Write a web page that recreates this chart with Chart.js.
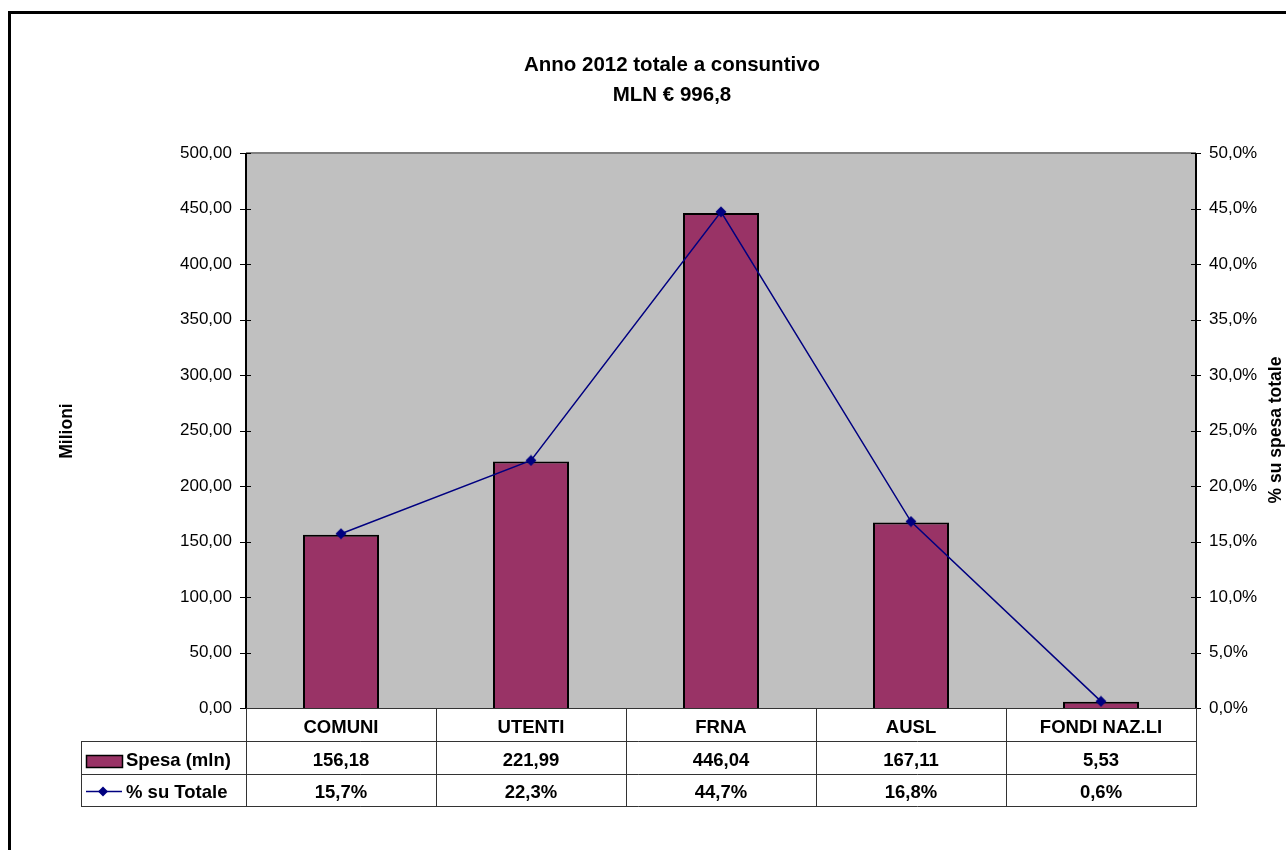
<!DOCTYPE html>
<html>
<head>
<meta charset="utf-8">
<style>
  html, body { margin: 0; padding: 0; background: #ffffff; }
  #wrap { width: 1286px; height: 850px; position: relative; }
</style>
<script src="https://cdn.jsdelivr.net/npm/chart.js@4/dist/chart.umd.min.js"></script>
</head>
<body>
<div id="wrap"><canvas id="chart" width="1286" height="850"></canvas></div>
<script>
// Spesa per fonte di finanziamento, anno 2012
const categories = ['COMUNI', 'UTENTI', 'FRNA', 'AUSL', 'FONDI NAZ.LI'];
const spesaMln = [156.18, 221.99, 446.04, 167.11, 5.53];
const quotaPct = [15.7, 22.3, 44.7, 16.8, 0.6];
const spesaLabels = ['156,18', '221,99', '446,04', '167,11', '5,53'];
const quotaLabels = ['15,7%', '22,3%', '44,7%', '16,8%', '0,6%'];
const seriesNames = ['Spesa (mln)', '% su Totale'];
const titleLines = ['Anno 2012 totale a consuntivo', 'MLN € 996,8'];

const BAR_COLOR = '#993366';
const LINE_COLOR = '#000080';
const FONT = '"Liberation Sans", Arial, sans-serif';

const fmtLeft = v => v.toFixed(2).replace('.', ',');
const fmtRight = v => v.toFixed(1).replace('.', ',') + '%';

function diamond(ctx, x, y, r) {
  ctx.beginPath();
  ctx.moveTo(x, y - r);
  ctx.lineTo(x + r, y);
  ctx.lineTo(x, y + r);
  ctx.lineTo(x - r, y);
  ctx.closePath();
  ctx.fill();
}

// Frame, plot background, titles, crossing tick marks and the data table
const excelDecor = {
  id: 'excelDecor',
  beforeDraw(chart) {
    const { ctx, chartArea: a } = chart;
    ctx.save();
    ctx.fillStyle = '#ffffff';
    ctx.fillRect(0, 0, chart.width, chart.height);
    ctx.fillStyle = '#c0c0c0';
    ctx.fillRect(a.left, a.top, a.right - a.left, a.bottom - a.top);
    ctx.restore();
  },
  afterDatasetsDraw(chart) {
    const { ctx, chartArea: a, scales } = chart;
    const yL = scales.y, yR = scales.y1, x = scales.x;
    ctx.save();

    // outer frame
    ctx.strokeStyle = '#000';
    ctx.lineWidth = 3;
    ctx.strokeRect(9.5, 12.5, 1290, 850);

    // plot border: top gray, axes black
    ctx.lineWidth = 2;
    ctx.strokeStyle = '#808080';
    ctx.beginPath();
    ctx.moveTo(a.left, a.top); ctx.lineTo(a.right, a.top);
    ctx.stroke();
    ctx.strokeStyle = '#000';
    ctx.beginPath();
    ctx.moveTo(a.left, a.top); ctx.lineTo(a.left, a.bottom);
    ctx.moveTo(a.right, a.top); ctx.lineTo(a.right, a.bottom);
    ctx.stroke();

    // tick marks crossing the axes
    ctx.lineWidth = 1;
    ctx.strokeStyle = '#000';
    yL.ticks.forEach(t => {
      const py = Math.round(yL.getPixelForValue(t.value)) + 0.5;
      ctx.beginPath(); ctx.moveTo(a.left - 6, py); ctx.lineTo(a.left + 5, py); ctx.stroke();
    });
    yR.ticks.forEach(t => {
      const py = Math.round(yR.getPixelForValue(t.value)) + 0.5;
      ctx.beginPath(); ctx.moveTo(a.right - 5, py); ctx.lineTo(a.right + 5, py); ctx.stroke();
    });

    // titles
    ctx.fillStyle = '#000';
    ctx.textAlign = 'center';
    ctx.textBaseline = 'middle';
    ctx.font = 'bold 20.5px ' + FONT;
    ctx.fillText(titleLines[0], 672, 65);
    ctx.fillText(titleLines[1], 672, 95);

    ctx.font = 'bold 17.5px ' + FONT;
    ctx.save();
    ctx.translate(67, 431);
    ctx.rotate(-Math.PI / 2);
    ctx.fillText('Milioni', 0, 0);
    ctx.restore();
    ctx.save();
    ctx.translate(1276, 430);
    ctx.rotate(-Math.PI / 2);
    ctx.fillText('% su spesa totale', 0, 0);
    ctx.restore();

    // data table
    const r0 = a.bottom, r1 = 741, r2 = 774, r3 = 806;
    const tLeft = 81.5;
    ctx.strokeStyle = '#333';
    ctx.lineWidth = 1;
    ctx.beginPath();
    ctx.moveTo(a.left, r0 + 0.5); ctx.lineTo(a.right, r0 + 0.5);
    [r1, r2, r3].forEach(r => { ctx.moveTo(tLeft, r + 0.5); ctx.lineTo(a.right, r + 0.5); });
    ctx.moveTo(tLeft, r1); ctx.lineTo(tLeft, r3 + 1);
    const colW = (a.right - a.left) / categories.length;
    for (let i = 0; i <= categories.length; i++) {
      const cx = Math.round(a.left + i * colW) + 0.5;
      ctx.moveTo(cx, r0); ctx.lineTo(cx, r3 + 1);
    }
    ctx.stroke();

    ctx.fillStyle = '#000';
    ctx.font = 'bold 18.5px ' + FONT;
    ctx.textAlign = 'center';
    categories.forEach((c, i) => {
      const cx = x.getPixelForValue(i);
      ctx.fillText(c, cx, (r0 + r1) / 2 + 3);
      ctx.fillText(spesaLabels[i], cx, (r1 + r2) / 2 + 3);
      ctx.fillText(quotaLabels[i], cx, (r2 + r3) / 2 + 3);
    });

    // legend keys in the row headers
    ctx.textAlign = 'left';
    ctx.fillStyle = BAR_COLOR;
    ctx.fillRect(86.5, 755.5, 36, 12);
    ctx.strokeStyle = '#000';
    ctx.lineWidth = 1.5;
    ctx.strokeRect(86.5, 755.5, 36, 12);
    ctx.fillStyle = '#000';
    ctx.fillText(seriesNames[0], 126, (r1 + r2) / 2 + 3);

    const ly = 791.5;
    ctx.strokeStyle = LINE_COLOR;
    ctx.lineWidth = 1.5;
    ctx.beginPath(); ctx.moveTo(86, ly); ctx.lineTo(122, ly); ctx.stroke();
    ctx.fillStyle = LINE_COLOR;
    diamond(ctx, 103, ly, 5);
    ctx.fillStyle = '#000';
    ctx.fillText(seriesNames[1], 126, (r2 + r3) / 2 + 3);

    ctx.restore();
  }
};

const diamondStyle = (() => {
  const c = document.createElement('canvas');
  c.width = 12; c.height = 12;
  const g = c.getContext('2d');
  g.fillStyle = LINE_COLOR;
  diamond(g, 6, 6, 5.5);
  return c;
})();

new Chart(document.getElementById('chart'), {
  data: {
    labels: categories,
    datasets: [
      {
        type: 'line',
        label: seriesNames[1],
        data: quotaPct,
        yAxisID: 'y1',
        borderColor: LINE_COLOR,
        borderWidth: 1.5,
        pointStyle: diamondStyle,
        pointRadius: 6,
        tension: 0,
        order: 0
      },
      {
        type: 'bar',
        label: seriesNames[0],
        data: spesaMln,
        yAxisID: 'y',
        backgroundColor: BAR_COLOR,
        borderColor: '#000',
        borderWidth: 2,
        categoryPercentage: 1,
        barPercentage: 0.4,
        order: 1
      }
    ]
  },
  plugins: [excelDecor],
  options: {
    responsive: false,
    animation: false,
    events: [],
    layout: { padding: { top: 153, left: 0, right: 0, bottom: 0 } },
    plugins: {
      legend: { display: false },
      title: { display: false },
      tooltip: { enabled: false }
    },
    scales: {
      x: {
        grid: { display: false, drawTicks: false },
        border: { display: false },
        ticks: { display: false },
        afterFit(s) { s.height = 142; }
      },
      y: {
        position: 'left',
        min: 0, max: 500,
        grid: { display: false, drawTicks: false },
        border: { display: false },
        ticks: {
          stepSize: 50,
          color: '#000',
          padding: 14,
          font: { family: FONT, size: 17 },
          callback: v => fmtLeft(v)
        },
        afterFit(s) { s.width = 246; }
      },
      y1: {
        position: 'right',
        min: 0, max: 50,
        grid: { display: false, drawTicks: false },
        border: { display: false },
        ticks: {
          stepSize: 5,
          color: '#000',
          padding: 13,
          font: { family: FONT, size: 17 },
          callback: v => fmtRight(v)
        },
        afterFit(s) { s.width = 90; }
      }
    }
  }
});
</script>
</body>
</html>
